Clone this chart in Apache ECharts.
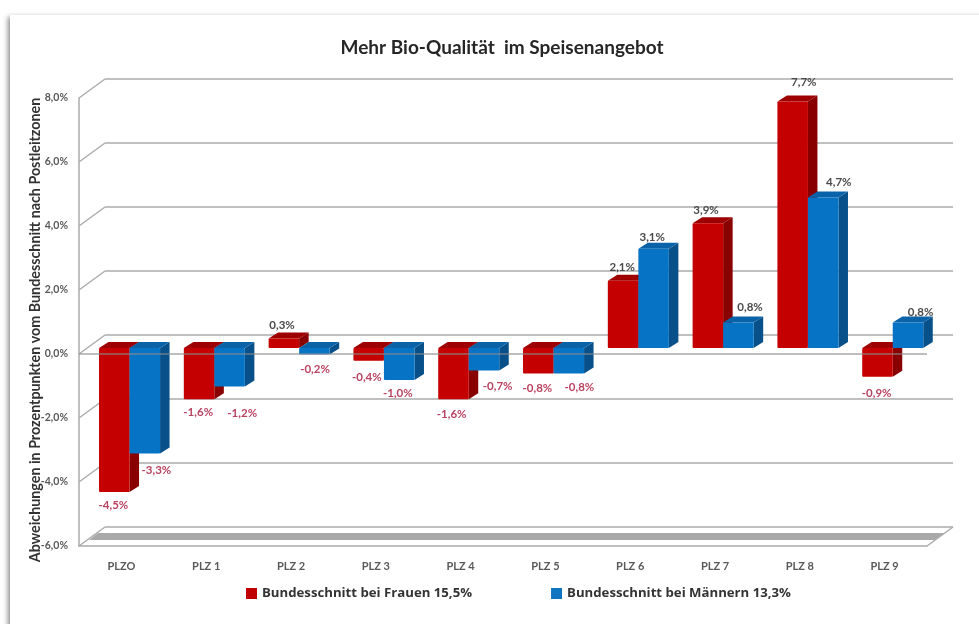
<!DOCTYPE html>
<html><head><meta charset="utf-8">
<style>html,body{margin:0;padding:0;background:#fff}#c{width:979px;height:624px}</style>
<script src="https://cdn.jsdelivr.net/npm/echarts@6/dist/echarts.min.js"></script>
</head><body><div id="c"></div>
<script>
const categories = ['PLZO','PLZ 1','PLZ 2','PLZ 3','PLZ 4','PLZ 5','PLZ 6','PLZ 7','PLZ 8','PLZ 9'];
const frauen = [-4.5,-1.6,0.3,-0.4,-1.6,-0.8,2.1,3.9,7.7,-0.9];
const maenner = [-3.3,-1.2,-0.2,-1.0,-0.7,-0.8,3.1,0.8,4.7,0.8];
const yTicks = [-6,-4,-2,0,2,4,6,8];
const frauenName = 'Bundesschnitt bei Frauen 15,5%';
const maennerName = 'Bundesschnitt bei Männern 13,3%';
const titleText = 'Mehr Bio-Qualität  im Speisenangebot';
const yTitle = 'Abweichungen in Prozentpunkten vom Bundesschnitt nach Postleitzonen';

// manual label placement of the original, relative to the value point
const frauenLabelDx = [-8,-8,-9,-9,-9,-8,-8,-9,4,-8];
const frauenLabelDy = [7,7,-19,10,9,9,-20,-19,-25,10];
const maennerLabelDx = [35,36,24,22,37,34,22,35,39,36];
const maennerLabelDy = [11,21,9,7,10,8,-18,-21,-21,-16];

const DEPTH_X = 26, DEPTH_Y = 19, BAR_DX = 9.5, BAR_DY = 6, LIFT = 6;
const pct = v => v.toFixed(1).replace('.', ',') + '%';

function wallItem(params, api) {
  const v = api.value(0);
  const p = api.coord([0, v]);
  const x0 = p[0] - api.size([1, 0])[0] / 2;
  const x1 = x0 + api.size([1, 0])[0] * categories.length;
  const line = { stroke: '#ABABAB', lineWidth: 1.5 };
  const kids = [
    { type: 'line', shape: { x1: x0, y1: p[1], x2: x0 + DEPTH_X, y2: p[1] - DEPTH_Y }, style: line },
    { type: 'line', shape: { x1: x0 + DEPTH_X, y1: p[1] - DEPTH_Y, x2: x1 + DEPTH_X, y2: p[1] - DEPTH_Y }, style: line }
  ];
  if (v === yTicks[0]) {
    kids.push({ type: 'line', shape: { x1: x1, y1: p[1], x2: x1 + DEPTH_X, y2: p[1] - DEPTH_Y }, style: line });
    kids.push({ type: 'polygon', shape: { points: [
      [x0 + 19, p[1] - 13], [x1 + 17, p[1] - 13], [x1 + 8, p[1] - 6], [x0 + 10, p[1] - 6]
    ] }, style: { fill: '#A9A9A9' } });
  }
  return { type: 'group', children: kids };
}

function barRenderer(colors, offsetFrac, dxs, dys, values) {
  return function (params, api) {
    const i = api.value(0), v = api.value(1);
    const band = api.size([1, 0])[0];
    const w = band * 0.36;
    const pv = api.coord([i, v]), p0 = api.coord([i, 0]);
    const xl = pv[0] + band * offsetFrac, xr = xl + w;
    const yTop = Math.min(pv[1], p0[1]) - LIFT, yBot = Math.max(pv[1], p0[1]) - LIFT;
    const neg = v < 0;
    return { type: 'group', children: [
      { type: 'polygon', shape: { points: [[xr, yTop], [xr + BAR_DX, yTop - BAR_DY], [xr + BAR_DX, yBot - BAR_DY], [xr, yBot]] }, style: { fill: colors.side } },
      { type: 'polygon', shape: { points: [[xl, yTop], [xl + BAR_DX, yTop - BAR_DY], [xr + BAR_DX, yTop - BAR_DY], [xr, yTop]] }, style: { fill: colors.top } },
      { type: 'rect', shape: { x: xl, y: yTop, width: w, height: yBot - yTop, r: 1 }, style: { fill: colors.front } },
      { type: 'text', z2: 50, style: {
        text: pct(values[i]), x: pv[0] + dxs[i], y: pv[1] + dys[i],
        fill: neg ? '#B8425F' : '#4A4A4A', font: 'bold 11.5px Lato',
        align: 'center', verticalAlign: 'middle' } }
    ] };
  };
}

function zeroLineItem(params, api) {
  const p = api.coord([0, 0]);
  const band = api.size([1, 0])[0];
  const x0 = p[0] - band / 2;
  return { type: 'line', shape: { x1: x0, y1: p[1], x2: x0 + band * categories.length, y2: p[1] },
    style: { stroke: 'rgba(140,140,140,0.75)', lineWidth: 1.5 } };
}

const chart = echarts.init(document.getElementById('c'), null, { renderer: 'canvas' });
chart.setOption({
  animation: false,
  backgroundColor: '#ffffff',
  graphic: [{ type: 'rect', z: -10, silent: true,
    shape: { x: 10, y: 15, width: 1100, height: 800 },
    style: { fill: '#fff', shadowBlur: 5, shadowColor: 'rgba(110,110,110,0.8)', shadowOffsetX: -2, shadowOffsetY: 2 } }],
  title: { text: titleText, left: 497, top: 33, textAlign: 'center',
    textStyle: { fontFamily: 'Lato', fontWeight: 'bold', fontSize: 19, color: '#262626' } },
  legend: { left: 241, top: 582, itemWidth: 11, itemHeight: 11, itemGap: 79, icon: 'rect',
    data: [frauenName, maennerName],
    textStyle: { fontFamily: 'Open Sans', fontWeight: 'bold', fontSize: 13.2, color: '#333333' } },
  grid: { left: 79, right: 52, top: 98, bottom: 78 },
  xAxis: { type: 'category', data: categories,
    axisLine: { onZero: false, lineStyle: { color: '#ABABAB', width: 1.5 } },
    axisTick: { show: false }, splitLine: { show: false },
    axisLabel: { margin: 15, color: '#595959', fontFamily: 'Lato', fontWeight: 'bold', fontSize: 11 } },
  yAxis: { type: 'value', min: -6, max: 8, interval: 2,
    name: yTitle, nameLocation: 'middle', nameGap: 37, nameRotate: 90, nameMoveOverlap: false,
    nameTextStyle: { fontFamily: 'Lato', fontWeight: 'bold', fontSize: 14.3, color: '#333333', padding: [0, 0, 0, -16] },
    axisLine: { show: true, lineStyle: { color: '#ABABAB', width: 1.5 } },
    axisTick: { show: false }, splitLine: { show: false },
    axisLabel: { margin: 11, color: '#595959', fontFamily: 'Lato', fontWeight: 'bold', fontSize: 10.5,
      formatter: v => pct(v) } },
  series: [
    { type: 'custom', name: 'wall', silent: true, z: 1, data: yTicks.map(v => [v]), renderItem: wallItem, clip: false },
    { type: 'custom', name: frauenName, z: 2, clip: false, itemStyle: { color: '#C00000' },
      data: frauen.map((v, i) => [i, v]),
      renderItem: barRenderer({ front: '#C50000', top: '#9E0000', side: '#880000' }, -0.264, frauenLabelDx, frauenLabelDy, frauen) },
    { type: 'custom', name: maennerName, z: 3, clip: false, itemStyle: { color: '#0F75C0' },
      data: maenner.map((v, i) => [i, v]),
      renderItem: barRenderer({ front: '#0673C4', top: '#0A62A8', side: '#08508A' }, 0.096, maennerLabelDx, maennerLabelDy, maenner) },
    { type: 'custom', name: 'zero', silent: true, z: 4, clip: false, data: [[0]], renderItem: zeroLineItem }
  ]
});
</script></body></html>
